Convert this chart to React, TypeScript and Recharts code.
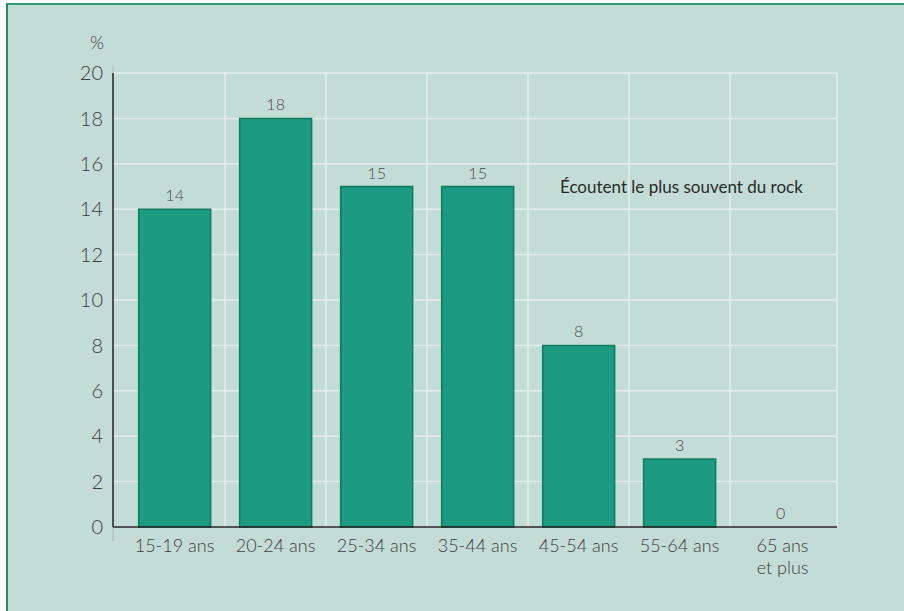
import React from 'react'
import {
  BarChart,
  Bar,
  Cell,
  XAxis,
  YAxis,
  CartesianGrid,
  LabelList,
  usePlotArea,
} from 'recharts'

const ageGroups = ['15-19 ans', '20-24 ans', '25-34 ans', '35-44 ans', '45-54 ans', '55-64 ans', '65 ans\net plus']
const rockShare = [14, 18, 15, 15, 8, 3, 0]
const yTicks = [0, 2, 4, 6, 8, 10, 12, 14, 16, 18, 20]

const data = ageGroups.map((age, i) => ({ age, value: rockShare[i] }))

const FONT = 'Lato, "Open Sans", sans-serif'
const TEXT = '#3c3c3c'
const PAD_LEFT = 11
const PAD_RIGHT = 6

function AgeTick(props: any) {
  const { x, y, payload } = props
  const lines = String(payload.value).split('\n')
  const multi = lines.length > 1
  return (
    <g transform={`translate(${x},${y})`}>
      {lines.map((line, i) => (
        <text
          key={i}
          x={multi ? 28 : 0}
          y={17 + i * 22}
          textAnchor={multi ? 'end' : 'middle'}
          fill={TEXT}
          fontSize={18}
          fontWeight={300}
          fontFamily={FONT}
        >
          {line}
        </text>
      ))}
    </g>
  )
}

function Decorations() {
  const area = usePlotArea()
  if (!area) return null
  const x0 = area.x
  const top = area.y
  const bottom = area.y + area.height
  return (
    <g>
      <line x1={x0} x2={x0} y1={top - 8} y2={top} stroke="#bfc9c5" strokeWidth={1.5} />
      <line x1={x0} x2={x0} y1={bottom} y2={bottom + 14} stroke="#b5bfbb" strokeWidth={1.5} />
      <text x={x0 + 447} y={top + 120} fill="#2a2a2a" fontSize={17} fontFamily={FONT}>
        Écoutent le plus souvent du rock
      </text>
    </g>
  )
}

function ValueLabel(props: any) {
  const { x, y, width, value } = props
  return (
    <text
      x={x + width / 2}
      y={y - 8}
      textAnchor="middle"
      fill="#4a4a4a"
      fontSize={16}
      fontWeight={300}
      fontFamily={FONT}
    >
      {value}
    </text>
  )
}

export default function App() {
  return (
    <div
      style={{
        position: 'fixed',
        left: 6,
        top: 3,
        width: 896,
        height: 606,
        background: '#c3ddd6',
        borderTop: '2px solid #2f9a74',
        borderLeft: '2px solid #1f8f66',
      }}
    >
      <BarChart
        width={896}
        height={606}
        data={data}
        margin={{ top: 68, right: 67, bottom: 24, left: 45 }}
        barCategoryGap="14.5%"
      >
        <CartesianGrid
          stroke="#e6ecea"
          strokeWidth={1.5}
          verticalCoordinatesGenerator={({ offset }: any) => {
            const band = (offset.width - PAD_LEFT - PAD_RIGHT) / ageGroups.length
            return ageGroups
              .slice(1)
              .map((_, i) => offset.left + PAD_LEFT + band * (i + 1))
              .concat(offset.left + offset.width)
          }}
        />
        <Decorations />
        <XAxis
          dataKey="age"
          height={60}
          padding={{ left: PAD_LEFT, right: PAD_RIGHT }}
          tickLine={false}
          axisLine={{ stroke: '#222', strokeWidth: 1.5 }}
          tick={<AgeTick />}
          interval={0}
        />
        <YAxis
          width={60}
          domain={[0, 20]}
          ticks={yTicks}
          tickLine={false}
          axisLine={{ stroke: '#222', strokeWidth: 1.5 }}
          tick={{ fill: TEXT, fontSize: 20, fontWeight: 300, fontFamily: FONT }}
          tickMargin={4}
          label={{
            content: ({ viewBox }: any) => (
              <text
                x={viewBox.x + viewBox.width - 16}
                y={viewBox.y - 24}
                textAnchor="middle"
                fill={TEXT}
                fontSize={18}
                fontWeight={300}
                fontFamily={FONT}
              >
                %
              </text>
            ),
          }}
        />
        <Bar
          dataKey="value"
          fill="#1d9a82"
          stroke="#0f7a5e"
          strokeWidth={1.5}
          minPointSize={(v: number) => (v === 0 ? 0.1 : 0)}
          isAnimationActive={false}
        >
          {rockShare.map((v, i) => (
            <Cell key={i} stroke={v === 0 ? 'none' : '#0f7a5e'} fill={v === 0 ? 'none' : '#1d9a82'} />
          ))}
          <LabelList dataKey="value" content={<ValueLabel />} />
        </Bar>
      </BarChart>
    </div>
  )
}
